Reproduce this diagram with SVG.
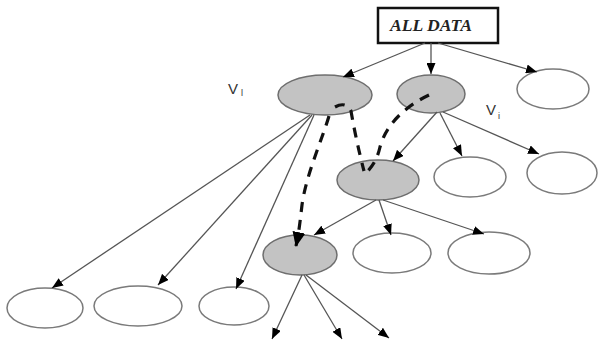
<svg xmlns="http://www.w3.org/2000/svg" width="598" height="344" viewBox="0 0 598 344">
<defs>
<style>
.g ellipse{fill:#c3c3c3;stroke:#6e6e6e;stroke-width:1.5}
.w ellipse{fill:#fff;stroke:#7a7a7a;stroke-width:1.5}
.e line{stroke:#555;stroke-width:1.3;marker-end:url(#ah)}
.d path{fill:none;stroke:#111;stroke-width:3.2;stroke-dasharray:10 8}
.lbl{font-family:"Liberation Sans",sans-serif;font-size:15px;fill:#333}
.sub{font-family:"Liberation Sans",sans-serif;font-size:9px;fill:#333}
</style>
<marker id="ah" markerWidth="11" markerHeight="9" refX="11" refY="4.5" orient="auto" markerUnits="userSpaceOnUse">
<path d="M0,0 L11,4.5 L0,9 z" fill="#000"/>
</marker>
<marker id="bh" markerWidth="15" markerHeight="13" refX="14" refY="6.5" orient="auto" markerUnits="userSpaceOnUse">
<path d="M0,0 L15,6.5 L0,13 z" fill="#000"/>
</marker>
</defs>
<rect width="598" height="344" fill="#fff"/>
<g id="all-data">
<rect x="378" y="8" width="120" height="35" fill="#fff" stroke="#111" stroke-width="2.5"/>
<text x="431" y="31" text-anchor="middle" font-family="Liberation Serif,serif" font-size="16" font-weight="bold" font-style="italic" fill="#222" textLength="82" lengthAdjust="spacingAndGlyphs">ALL DATA</text>
</g>
<g id="n1" class="g"><ellipse cx="325" cy="95" rx="47" ry="20"/></g>
<g id="n2" class="g"><ellipse cx="431" cy="94" rx="34" ry="19"/></g>
<g id="n3" class="w"><ellipse cx="553" cy="89" rx="36" ry="20"/></g>
<g id="n4" class="g"><ellipse cx="378" cy="180" rx="41" ry="20"/></g>
<g id="n5" class="w"><ellipse cx="470" cy="177" rx="36" ry="20"/></g>
<g id="n6" class="w"><ellipse cx="562" cy="173" rx="35" ry="21"/></g>
<g id="n7" class="g"><ellipse cx="300" cy="255" rx="37" ry="20"/></g>
<g id="n8" class="w"><ellipse cx="392" cy="253" rx="39" ry="20"/></g>
<g id="n9" class="w"><ellipse cx="489" cy="253" rx="41" ry="21"/></g>
<g id="n10" class="w"><ellipse cx="45" cy="308" rx="38" ry="20"/></g>
<g id="n11" class="w"><ellipse cx="138" cy="306" rx="44" ry="20"/></g>
<g id="n12" class="w"><ellipse cx="234" cy="306" rx="35" ry="19"/></g>
<g id="connectors">
<g class="e">
<line x1="425" y1="43" x2="343" y2="77"/>
<line x1="431" y1="43" x2="431" y2="74"/>
<line x1="438" y1="43" x2="537" y2="72"/>
<line x1="310" y1="115" x2="52" y2="288"/>
<line x1="312" y1="115" x2="158" y2="285"/>
<line x1="314" y1="115" x2="236" y2="289"/>
<line x1="437" y1="112" x2="393" y2="161"/>
<line x1="440" y1="113" x2="462" y2="156"/>
<line x1="443" y1="112" x2="539" y2="154"/>
<line x1="376" y1="200" x2="314" y2="235"/>
<line x1="379" y1="200" x2="391" y2="235"/>
<line x1="383" y1="200" x2="484" y2="234"/>
<line x1="302" y1="275" x2="272" y2="339"/>
<line x1="304" y1="275" x2="342" y2="339"/>
<line x1="306" y1="275" x2="389" y2="338"/>
</g>
<g class="d">
<path d="M329,116 C322,140 306,175 302,205 C300,222 299,232 296,246" marker-end="url(#bh)"/>
<path d="M335,107 Q346,101 351,111 Q356,140 364,171"/>
<path d="M429,95 C404,107 386,125 380,147 C377,160 372,167 366,173"/>
</g>
</g>
<g id="label-vl"><text class="lbl" x="228" y="94">V</text><text class="sub" x="241" y="96">l</text></g>
<g id="label-vi"><text class="lbl" x="486" y="115">V</text><text class="sub" x="498" y="119">i</text></g>
</svg>
